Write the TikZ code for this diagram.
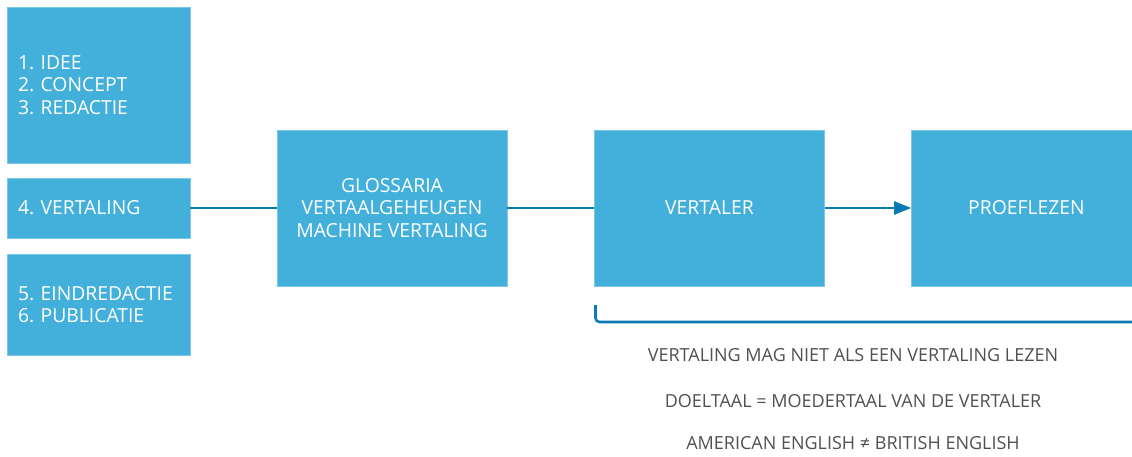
\documentclass[tikz,border=0pt]{standalone}
\usepackage{fontspec}
\setmainfont{Open Sans}
\usetikzlibrary{arrows.meta}
\definecolor{boxblue}{HTML}{43AFDB}
\definecolor{boxedge}{HTML}{7CC8E8}
\definecolor{linkblue}{HTML}{0B7BB6}
\definecolor{notegray}{HTML}{505050}
\frenchspacing
\tikzset{
  blk/.style={fill=boxblue, draw=boxedge, line width=0.4pt, inner sep=0pt, text=white,
    font=\fontsize{14.5}{16.9}\selectfont},
  leftblk/.style={blk, minimum width=183*0.75pt, text width=161*0.75pt, align=left},
  bigblk/.style={blk, minimum width=230*0.75pt, minimum height=156*0.75pt, align=center},
  link/.style={draw=linkblue, line width=1.9pt},
  note/.style={text=notegray, font=\fontsize{13.5}{16}\selectfont, inner sep=0pt}
}
\begin{document}
\begin{tikzpicture}[x=0.75pt, y=-0.75pt]
\useasboundingbox (0,0) rectangle (1132,457);
\clip (0,0) rectangle (1132,457);
\node[leftblk, minimum height=156*0.75pt] (b1) at (98.5,85) {1. IDEE\\2. CONCEPT\\3. REDACTIE};
\node[leftblk, minimum height=60*0.75pt] (b2) at (98.5,208) {4. VERTALING};
\node[leftblk, minimum height=101*0.75pt] (b3) at (98.5,304.5) {5. EINDREDACTIE\\6. PUBLICATIE};
\node[bigblk] (gl) at (392,208) {GLOSSARIA\\VERTAALGEHEUGEN\\MACHINE VERTALING};
\node[bigblk] (vt) at (709.5,208) {VERTALER};
\node[bigblk] (pf) at (1026.5,208) {PROEFLEZEN};
\draw[link] (b2.east) -- (gl.west);
\draw[link] (gl.east) -- (vt.west);
\draw[link, -{Triangle[length=17*0.75pt, width=13*0.75pt]}] (vt.east) -- (pf.west);
\coordinate (bs) at (595.5,305);
\coordinate (be) at (1140,322);
\draw[link, rounded corners=3pt] (bs) |- (be);
\node[note] (n1) at (853,355) {VERTALING MAG NIET ALS EEN VERTALING LEZEN};
\node[note] (n2) at (853,401) {DOELTAAL = MOEDERTAAL VAN DE VERTALER};
\node[note] (n3) at (853,443) {AMERICAN ENGLISH ≠ BRITISH ENGLISH};
\end{tikzpicture}
\end{document}
